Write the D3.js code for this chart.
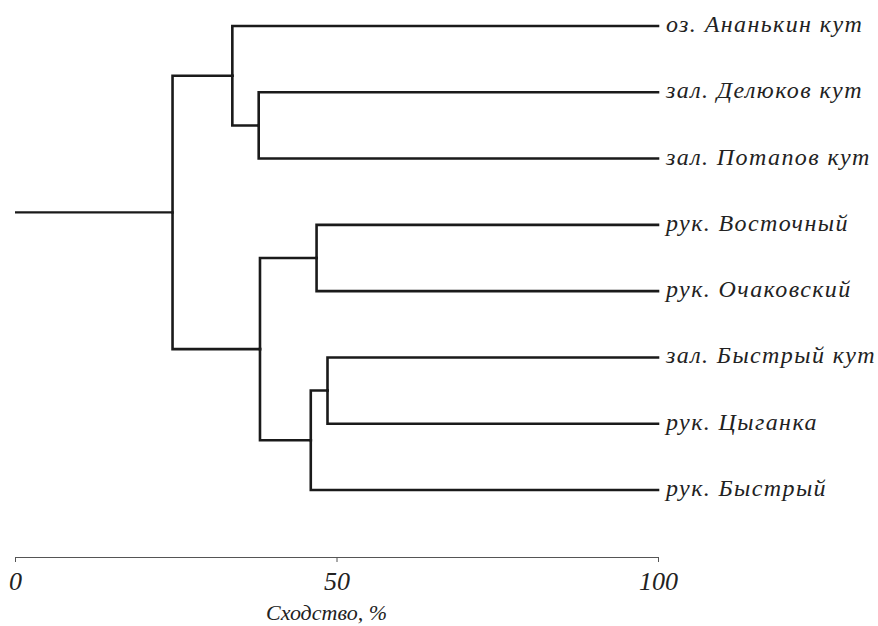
<!DOCTYPE html>
<html>
<head>
<meta charset="utf-8">
<script src="https://cdn.jsdelivr.net/npm/d3@7"></script>
<style>
  body { margin: 0; background: #fff; }
  text { font-family: "Liberation Serif", "DejaVu Serif", serif; font-style: italic; fill: #222; }
</style>
</head>
<body>
<div id="chart"></div>
<script>
// leaf labels, top to bottom
var leaves = ["оз. Ананькин кут", "зал. Делюков кут", "зал. Потапов кут",
              "рук. Восточный", "рук. Очаковский", "зал. Быстрый кут",
              "рук. Цыганка", "рук. Быстрый"];
// merge levels (similarity, %) of internal nodes
var nodeNames = ["A", "B", "C", "D", "E", "F", "G"];
var nodeSim   = [24.5, 33.8, 37.9, 38.1, 46.9, 46.0, 48.6];
// children of each internal node (leaf index or node name)
var nodeKids  = [["B", "D"], [0, "C"], [1, 2], ["E", "F"], [3, 4], ["G", 7], [5, 6]];
var axisTicks = [0, 50, 100];
var axisTitle = "Сходство, %";

var width = 878, height = 626;
var svg = d3.select("#chart").append("svg")
    .attr("width", width)
    .attr("height", height);

var x = d3.scaleLinear().domain([0, 100]).range([15, 658]);
var y = d3.scalePoint().domain(d3.range(leaves.length)).range([26, 490]);

function build(k) {
    if (typeof k === "number") return {name: leaves[k], idx: k, sim: 100};
    var i = nodeNames.indexOf(k);
    return {name: k, sim: nodeSim[i], children: nodeKids[i].map(build)};
}
var root = d3.hierarchy(build("A"));

// position: leaves by order, parents at midpoint of children
root.eachAfter(function(d) {
    d.px = x(d.data.sim);
    if (d.children) {
        d.py = (d.children[0].py + d.children[d.children.length - 1].py) / 2;
    } else {
        d.py = y(d.data.idx);
    }
});

var g = svg.append("g");

// elbow links
g.selectAll("path.link")
    .data(root.links())
    .enter().append("path")
    .attr("class", "link")
    .attr("fill", "none")
    .attr("stroke", "#1a1a1a")
    .attr("stroke-width", 2.6)
    .attr("stroke-linecap", "square")
    .attr("d", function(d) {
        return "M" + d.source.px + "," + d.source.py +
               "V" + d.target.py + "H" + d.target.px;
    });

// root stub
g.append("path")
    .attr("fill", "none")
    .attr("stroke", "#1a1a1a")
    .attr("stroke-width", 2.2)
    .attr("d", "M" + x(0) + "," + root.py + "H" + root.px);

// leaf labels
g.selectAll("text.leaf")
    .data(root.leaves())
    .enter().append("text")
    .attr("class", "leaf")
    .attr("x", function(d) { return d.px + 8; })
    .attr("y", function(d) { return d.py + 6; })
    .style("font-size", "24px")
    .style("letter-spacing", "1.4px")
    .text(function(d) { return d.data.name; });

// axis
var axisY = 557;
var axis = svg.append("g")
    .attr("transform", "translate(0," + axisY + ")")
    .call(d3.axisBottom(x).tickValues(axisTicks).tickSize(5).tickPadding(10).tickFormat(d3.format("d")));
axis.select(".domain").attr("stroke", "#555").attr("stroke-width", 1);
axis.selectAll(".tick line").attr("stroke", "#555");
axis.selectAll(".tick text")
    .style("font-family", "'Liberation Serif', serif")
    .style("font-style", "italic")
    .style("font-size", "26px")
    .attr("fill", "#222");

svg.append("text")
    .attr("x", x(50) - 10)
    .attr("y", 620)
    .attr("text-anchor", "middle")
    .style("font-size", "22px")
    .text(axisTitle);
</script>
</body>
</html>
